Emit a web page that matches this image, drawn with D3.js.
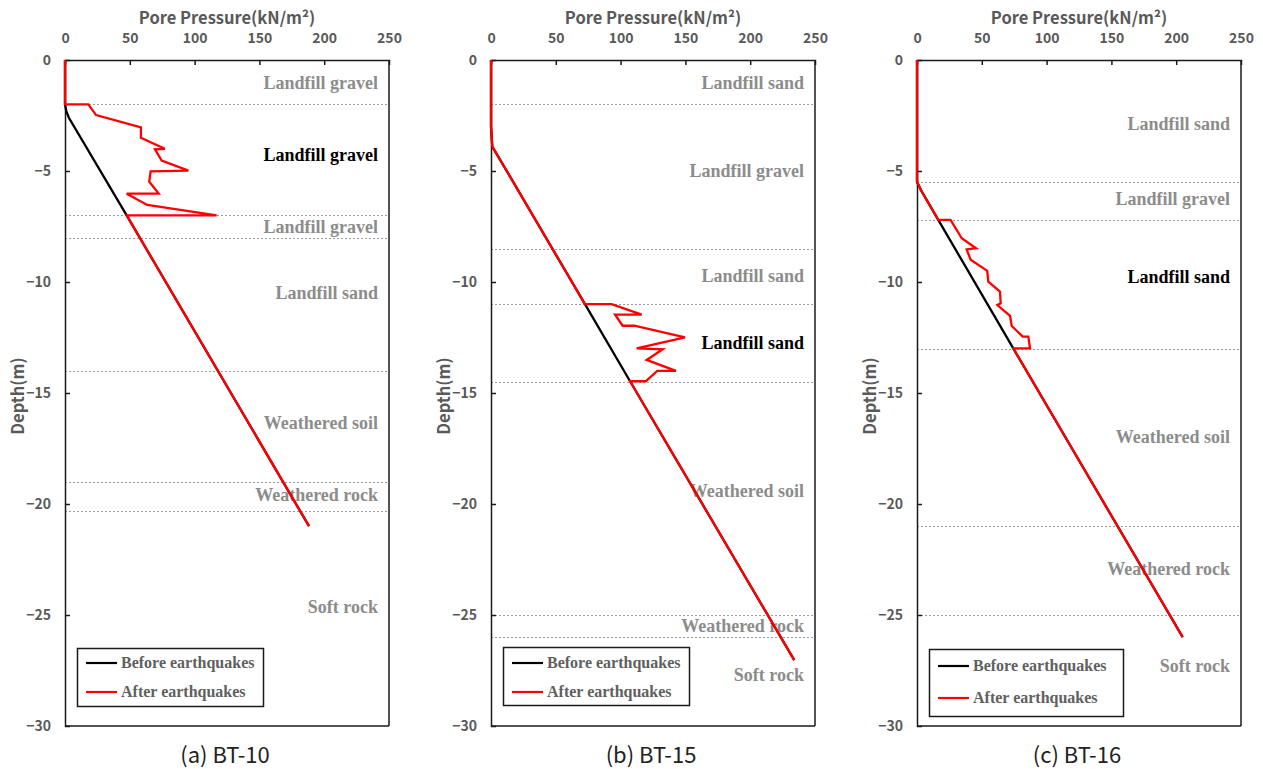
<!DOCTYPE html>
<html><head><meta charset="utf-8">
<script src="https://cdn.jsdelivr.net/npm/d3@7"></script>
<style>
body{margin:0;background:#fff;}
svg{display:block;}
</style></head>
<body><svg id="chart" width="1263" height="769"></svg>
<script>
// ---------- DATA ----------
const pressureTicks = [0, 50, 100, 150, 200, 250];
const depthTicks = [0, -5, -10, -15, -20, -25, -30];
const axisTitleX = "Pore Pressure(kN/m\u00B2)";
const axisTitleY = "Depth(m)";
const legendNames = ["Before earthquakes", "After earthquakes"];
const panelTitles = ["(a) BT-10", "(b) BT-15", "(c) BT-16"];

// BT-10
const beforeA_p = [0, 0, 1, 3, 47.6, 188.3];
const beforeA_d = [0, -2, -2.3, -2.6, -7.0, -21.0];
const afterA_p = [0, 0, 18, 24, 58.6, 58.6, 77, 69.4, 74.6, 95.2, 66.1, 65, 72.3, 47.6, 63.5, 117, 47.6, 188.3];
const afterA_d = [0, -2, -2, -2.48, -3.03, -3.5, -4.0, -4.02, -4.53, -4.98, -5.02, -5.48, -6.02, -6.02, -6.53, -7.0, -7.0, -21.0];
const layerA_d = [-2, -7, -8, -14, -19, -20.3];
const labelA = ["Landfill gravel", "Landfill gravel", "Landfill gravel", "Landfill sand", "Weathered soil", "Weathered rock", "Soft rock"];
const labelA_d = [-1.0, -4.28, -7.5, -10.5, -16.35, -19.6, -24.64];
const labelA_hl = 1;

// BT-15
const beforeB_p = [0, 0, 1, 15.5, 72.5, 107.3, 234];
const beforeB_d = [0, -3.0, -3.9, -5.33, -11, -14.47, -27.03];
const afterB_p = [0, 0, 1, 15.5, 72.5, 93.1, 116.3, 95.7, 101.6, 110.6, 149.7, 112.4, 132.5, 120.1, 142.7, 128.3, 119.4, 107.3, 234];
const afterB_d = [0, -3.0, -3.9, -5.33, -11, -11, -11.47, -11.47, -11.97, -11.97, -12.49, -12.99, -13.03, -13.51, -14.0, -14.0, -14.47, -14.47, -27.03];
const layerB_d = [-2, -8.5, -11, -14.5, -25, -26];
const labelB = ["Landfill sand", "Landfill gravel", "Landfill sand", "Landfill sand", "Weathered soil", "Weathered rock", "Soft rock"];
const labelB_d = [-1.0, -5.0, -9.73, -12.75, -19.4, -25.5, -27.7];
const labelB_hl = 3;

// BT-16
const beforeC_p = [0, 0, 3, 16.4, 74.3, 205];
const beforeC_d = [0, -5.48, -5.86, -7.2, -12.99, -26.0];
const afterC_p = [0, 0, 3, 16.4, 25.9, 34.5, 45.5, 38.3, 41.4, 54.2, 55, 64, 64.6, 62, 71.8, 73.1, 81.6, 85.9, 87.2, 74.3, 205];
const afterC_d = [0, -5.48, -5.86, -7.2, -7.2, -8.03, -8.48, -8.53, -9.0, -9.5, -9.98, -10.43, -10.96, -11.04, -11.53, -11.98, -12.46, -12.46, -12.99, -12.99, -26.0];
const layerC_d = [-5.5, -7.2, -13, -21, -25];
const labelC = ["Landfill sand", "Landfill gravel", "Landfill sand", "Weathered soil", "Weathered rock", "Soft rock"];
const labelC_d = [-2.88, -6.26, -9.77, -16.98, -22.9, -27.3];
const labelC_hl = 2;

// ---------- LAYOUT ----------
const panels = [
  {x0: 65,  bp: beforeA_p, bd: beforeA_d, ap: afterA_p, ad: afterA_d, layers: layerA_d, labels: labelA, labelD: labelA_d, hl: labelA_hl, title: panelTitles[0], leg: {w: 186, h: 58, y1: 663, y2: 692, top: 648}},
  {x0: 491, bp: beforeB_p, bd: beforeB_d, ap: afterB_p, ad: afterB_d, layers: layerB_d, labels: labelB, labelD: labelB_d, hl: labelB_hl, title: panelTitles[1], leg: {w: 186, h: 58, y1: 663, y2: 692, top: 647}},
  {x0: 917, bp: beforeC_p, bd: beforeC_d, ap: afterC_p, ad: afterC_d, layers: layerC_d, labels: labelC, labelD: labelC_d, hl: labelC_hl, title: panelTitles[2], leg: {w: 194, h: 67, y1: 666, y2: 698, top: 649}}
];
const W = 324, plotTop = 60, plotBottom = 726;
const sansFont = "'Noto Sans CJK KR','Noto Sans',sans-serif";
const serifFont = "'Liberation Serif','Times New Roman',serif";
const tickColor = "#595959";

const svg = d3.select("#chart");

panels.forEach(P => {
  const x = d3.scaleLinear().domain([0, 250]).range([P.x0, P.x0 + W]);
  const y = d3.scaleLinear().domain([0, -30]).range([plotTop, plotBottom]);
  const g = svg.append("g");

  // layer boundaries
  g.selectAll("line.layer").data(P.layers).enter().append("line")
    .attr("x1", x(0)).attr("x2", x(250))
    .attr("y1", d => Math.round(y(d)) + 0.5).attr("y2", d => Math.round(y(d)) + 0.5)
    .attr("stroke", "#9a9a9a").attr("stroke-width", 1).attr("stroke-dasharray", "2,2");

  // layer labels
  g.selectAll("text.lab").data(P.labels).enter().append("text")
    .attr("x", x(250) - 11)
    .attr("y", (d, i) => y(P.labelD[i]))
    .attr("dy", "0.35em")
    .attr("text-anchor", "end")
    .attr("font-family", serifFont).attr("font-weight", "bold").attr("font-size", 18)
    .attr("fill", (d, i) => i === P.hl ? "#000" : "#8c8c8c")
    .text(d => d);

  // frame right & bottom
  g.append("line").attr("x1", x(250)).attr("x2", x(250)).attr("y1", plotTop).attr("y2", plotBottom)
    .attr("stroke", "#1a1a1a").attr("stroke-width", 1.5);
  g.append("line").attr("x1", x(0)).attr("x2", x(250)).attr("y1", plotBottom).attr("y2", plotBottom)
    .attr("stroke", "#1a1a1a").attr("stroke-width", 1.5);

  // axes
  const xAxis = d3.axisTop(x).tickValues(pressureTicks).tickSize(-5).tickPadding(17).tickFormat(d3.format("d"));
  const gx = g.append("g").attr("transform", `translate(0,${plotTop})`).call(xAxis);
  const yAxis = d3.axisLeft(y).tickValues(depthTicks).tickSize(-5).tickPadding(14).tickFormat(d3.format("d"));
  const gy = g.append("g").attr("transform", `translate(${P.x0},0)`).call(yAxis);
  [gx, gy].forEach(a => {
    a.select(".domain").attr("stroke", "#1a1a1a").attr("stroke-width", 1.5);
    a.selectAll(".tick line").attr("stroke", "#1a1a1a").attr("stroke-width", 1.5);
    a.selectAll(".tick text").attr("fill", tickColor).attr("font-family", sansFont)
      .attr("font-weight", "bold").attr("font-size", 14);
  });
  gx.selectAll(".tick line").filter(d => d === 0 || d === 250).remove();
  gy.selectAll(".tick line").filter(d => d === 0 || d === -30).remove();

  // axis titles
  g.append("text").attr("x", x(125)).attr("y", 18).attr("dy", "0.35em")
    .attr("text-anchor", "middle").attr("font-family", sansFont).attr("font-weight", "bold")
    .attr("font-size", 16.5).attr("fill", tickColor).text(axisTitleX);
  g.append("text").attr("transform", `translate(${P.x0 - 47},${(plotTop + plotBottom) / 2 + 3}) rotate(-90)`)
    .attr("dy", "0.35em").attr("text-anchor", "middle").attr("font-family", sansFont)
    .attr("font-weight", "bold").attr("font-size", 16.5).attr("fill", tickColor).text(axisTitleY);

  // lines
  const line = d3.line().x(d => x(d[0])).y(d => y(d[1]));
  const before = P.bp.map((p, i) => [p, P.bd[i]]);
  const after = P.ap.map((p, i) => [p, P.ad[i]]);
  g.append("path").datum(before).attr("d", line).attr("fill", "none")
    .attr("stroke", "#000").attr("stroke-width", 2.3).attr("stroke-linejoin", "miter");
  g.append("path").datum(after).attr("d", line).attr("fill", "none")
    .attr("stroke", "#ff0000").attr("stroke-width", 2.3).attr("stroke-linejoin", "miter");

  // legend
  const L = P.leg;
  const lx = P.x0 + 12;
  g.append("rect").attr("x", lx + 0.5).attr("y", L.top + 0.5).attr("width", L.w).attr("height", L.h)
    .attr("fill", "#fff").attr("stroke", "#1a1a1a").attr("stroke-width", 1.5);
  [["#000", L.y1, legendNames[0]], ["#ff0000", L.y2, legendNames[1]]].forEach(([c, ly, name]) => {
    g.append("line").attr("x1", lx + 9).attr("x2", lx + 40).attr("y1", ly).attr("y2", ly)
      .attr("stroke", c).attr("stroke-width", 2.2);
    g.append("text").attr("x", lx + 44).attr("y", ly).attr("dy", "0.32em")
      .attr("font-family", serifFont).attr("font-weight", "bold").attr("font-size", 16)
      .attr("fill", "#606060").text(name);
  });

  // panel subtitle
  g.append("text").attr("x", x(125) - 2).attr("y", 755).attr("dy", "0.35em")
    .attr("text-anchor", "middle").attr("font-family", sansFont).attr("font-size", 22)
    .attr("fill", "#222").text(P.title);
});
</script></body></html>
